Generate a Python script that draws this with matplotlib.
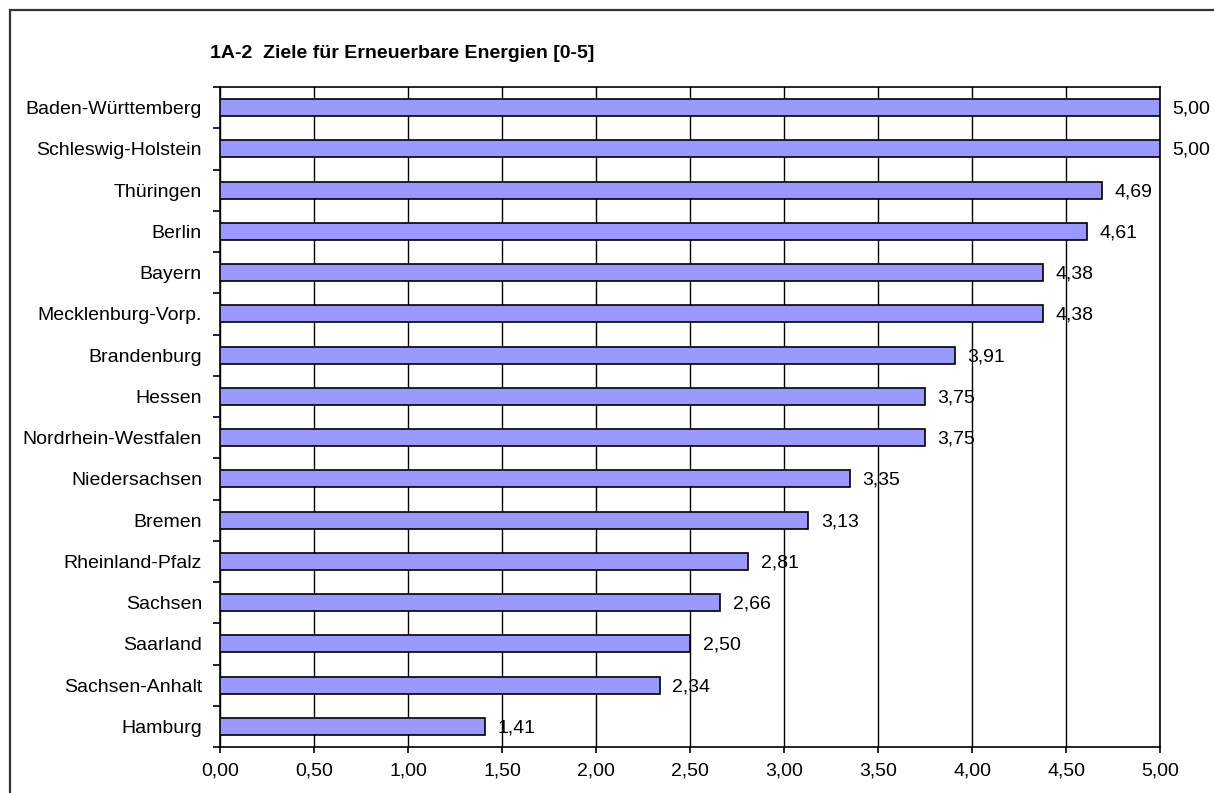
import numpy as np
import matplotlib.pyplot as plt
from matplotlib.patches import Rectangle
from matplotlib.ticker import FixedLocator

plt.rcParams['font.family'] = ['Liberation Sans', 'DejaVu Sans']

laender = ["Baden-Württemberg", "Schleswig-Holstein", "Thüringen", "Berlin",
           "Bayern", "Mecklenburg-Vorp.", "Brandenburg", "Hessen",
           "Nordrhein-Westfalen", "Niedersachsen", "Bremen", "Rheinland-Pfalz",
           "Sachsen", "Saarland", "Sachsen-Anhalt", "Hamburg"]
werte = [5.00, 5.00, 4.69, 4.61, 4.38, 4.38, 3.91, 3.75,
         3.75, 3.35, 3.13, 2.81, 2.66, 2.50, 2.34, 1.41]
xticks = [0, 0.5, 1, 1.5, 2, 2.5, 3, 3.5, 4, 4.5, 5]
titel = "1A-2  Ziele für Erneuerbare Energien [0-5]"

W, H = 1214, 793
fig = plt.figure(figsize=(W/100, H/100), dpi=100)
ax = fig.add_axes([220/W, 1-747/H, 940/W, 660/H])

# outer chart frame (runs off the picture at right and bottom)
fig.patches.append(Rectangle((10/W, -0.1), 1.2, 1.1 - 10/H, transform=fig.transFigure,
                             fill=False, edgecolor='#333333', linewidth=1.6))

y = np.arange(len(laender))
ax.barh(y, werte, height=0.41, color='#9999ff', edgecolor='black', linewidth=1.2, zorder=3)

for yi, v in zip(y, werte):
    ax.annotate(f"{v:.2f}".replace('.', ','), (v, yi), xytext=(9, -1),
                textcoords='offset points', va='center', ha='left', fontsize=14)

ax.set_xlim(0, 5)
ax.set_ylim(len(laender) - 0.5, -0.5)
ax.set_xticks(xticks)
ax.set_xticklabels([f"{t:.2f}".replace('.', ',') for t in xticks], fontsize=14)
ax.set_yticks(y)
ax.set_yticklabels(laender, fontsize=14)
ax.yaxis.set_minor_locator(FixedLocator(np.arange(-0.5, len(laender), 1)))
ax.tick_params(axis='y', which='major', length=0, pad=13)
ax.tick_params(axis='y', which='minor', length=5, width=1.2, direction='out')
ax.tick_params(axis='x', length=4, width=1.2, direction='out', pad=7)
ax.grid(axis='x', color='black', linewidth=1.0, zorder=0)
for s in ax.spines.values():
    s.set_color('black')
    s.set_linewidth(1.2)

fig.text(210/W, 1-53/H, titel, fontsize=14, fontweight='bold', va='center', ha='left')

fig.savefig('out.png', dpi=100)
